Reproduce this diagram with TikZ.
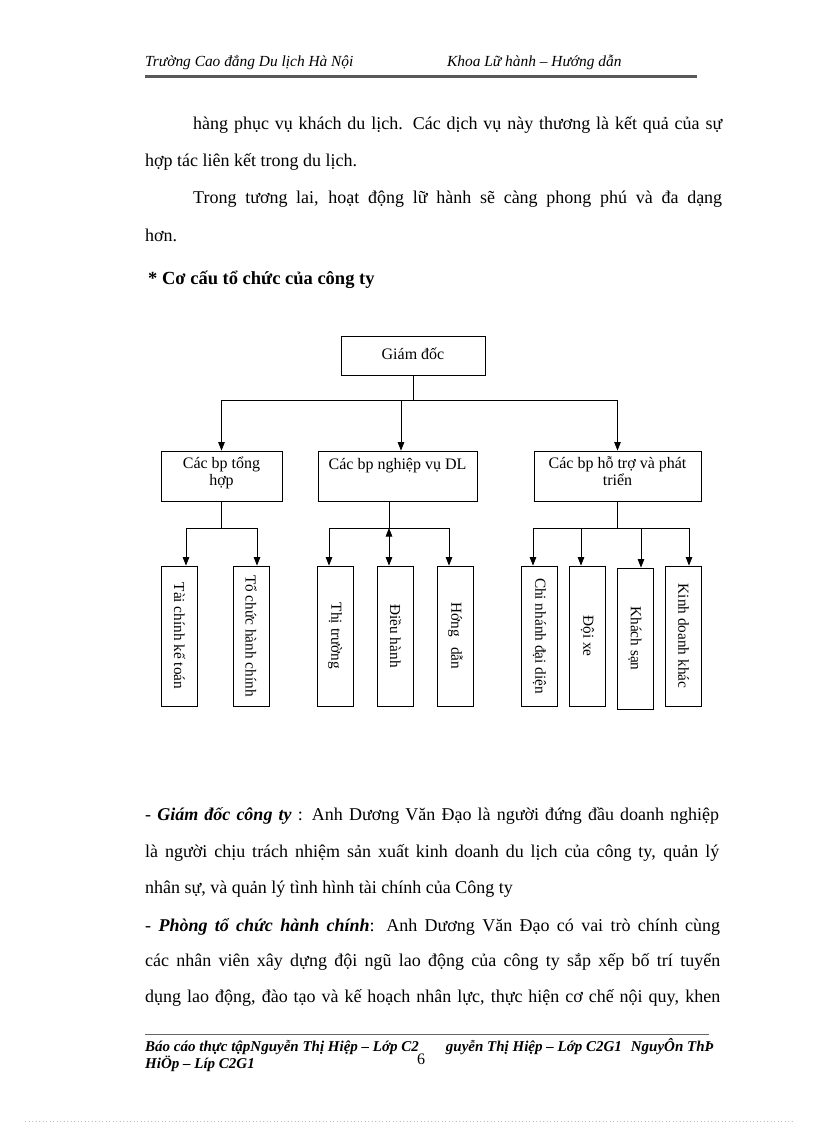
\documentclass[tikz,border=0pt]{standalone}
\usepackage{fontspec}
\setmainfont{Liberation Serif}
\usetikzlibrary{arrows.meta}
\newcommand{\bodyfont}{\fontsize{18}{20}\selectfont}
\newcommand{\jl}[2]{\hbox to #1pt{#2}}
\begin{document}
\begin{tikzpicture}[x=1pt,y=-1pt,
  txt/.style={anchor=base west, inner sep=0pt, font=\bodyfont},
  hdr/.style={anchor=base west, inner sep=0pt, font=\fontsize{15.4}{18}\selectfont\itshape},
  ftr/.style={anchor=base west, inner sep=0pt, font=\fontsize{15}{17}\selectfont\bfseries\itshape},
  box/.style={draw, line width=0.8pt, inner sep=0pt},
  dtext/.style={font=\fontsize{16}{17}\selectfont, align=center, inner sep=6pt},
  leaf/.style={draw, line width=0.8pt, inner sep=0pt, minimum width=36pt, minimum height=140pt},
  ltext/.style={rotate=-90, font=\fontsize{15.3}{17}\selectfont, inner sep=0pt},
  ln/.style={line width=0.8pt},
  arr/.style={line width=0.8pt, -{Triangle[width=6.5pt,length=8.5pt]}},
  darr/.style={line width=0.8pt, {Triangle[width=6.5pt,length=8.5pt]}-{Triangle[width=6.5pt,length=8.5pt]}}
]
\useasboundingbox (0,0) rectangle (816,1123);
\fill[white] (0,0) rectangle (816,1123);

% header
\node[hdr] (h1) at (145,67) {Trường Cao đẳng Du lịch Hà Nội};
\node[hdr] (h2) at (447,67) {Khoa Lữ hành – Hướng dẫn};
\coordinate (hl1) at (145,76.5);
\coordinate (hl2) at (697,76.5);
\draw[line width=2.2pt, black!65] (hl1) -- (hl2);

% top text
\node[txt] (t1) at (193,130) {\jl{529}{hàng phục vụ khách du lịch.  Các dịch vụ này thương là kết quả của sự}};
\node[txt] (t2) at (145,167) {hợp tác liên kết trong du lịch.};
\node[txt] (t3) at (193,204) {\jl{529}{Trong tương lai,  hoạt động lữ hành sẽ càng phong phú và đa dạng}};
\node[txt] (t4) at (145,241) {hơn.};
\node[txt, font=\fontsize{18.5}{20}\selectfont\bfseries] (t5) at (148,284) {* Cơ cấu tổ chức của công ty};

% diagram
\node[box, minimum width=144pt, minimum height=39pt, dtext, inner sep=0pt] (gd) at (413,355.5) {\raisebox{3pt}{Giám đốc}};
\node[box, minimum width=121pt, minimum height=50pt,
  label={[dtext, anchor=north]north:Các bp tổng\\hợp}] (b1) at (221.5,476) {};
\node[box, minimum width=159pt, minimum height=50pt,
  label={[dtext, anchor=north, yshift=-2pt]north:Các bp nghiệp vụ DL}] (b2) at (397.5,476) {};
\node[box, minimum width=167pt, minimum height=50pt,
  label={[dtext, anchor=north]north:Các bp hỗ trợ và phát\\triển}] (b3) at (617.5,476) {};

\node[leaf, label={[ltext]center:Tài chính kế toán}] (tc) at (179.5,636) {};
\node[leaf, label={[ltext]center:Tổ chức hành chính}] (tchc) at (251,636) {};
\node[leaf, label={[ltext]center:Thị trường}] (tt) at (335,636) {};
\node[leaf, label={[ltext]center:Điều hành}] (dh) at (395.5,636) {};
\node[leaf, label={[ltext]center:Hớng\hspace{10pt}dẫn}] (hd) at (455.5,636) {};
\node[leaf, label={[ltext]center:Chi nhánh đại diện}] (cn) at (539.5,636) {};
\node[leaf, label={[ltext]center:Đội xe}] (dx) at (587.5,636) {};
\node[leaf, minimum height=141pt, label={[ltext]center:Khách sạn}] (ks) at (635,638.5) {};
\node[leaf, label={[ltext]center:Kinh doanh khác}] (kd) at (683.5,636) {};

\coordinate (tb) at (0,400);
\coordinate (bb) at (0,528);

\draw[ln] (gd.south) -- (gd.south |- tb);
\draw[ln] (b1.north |- tb) -- (b3.north |- tb);
\draw[arr] (b1.north |- tb) -- (b1.north);
\draw[arr] ([xshift=3.5pt]b2.north |- tb) -- ([xshift=3.5pt]b2.north);
\draw[arr] (b3.north |- tb) -- (b3.north);

% group 1
\draw[ln] (b1.south) -- (b1.south |- bb);
\draw[ln] ([xshift=6.5pt]tc.north |- bb) -- ([xshift=6pt]tchc.north |- bb);
\draw[arr] ([xshift=6.5pt]tc.north |- bb) -- ([xshift=6.5pt]tc.north);
\draw[arr] ([xshift=6pt]tchc.north |- bb) -- ([xshift=6pt]tchc.north);

% group 2
\draw[ln] ([xshift=-8.5pt]b2.south) -- ([xshift=-8.5pt]b2.south |- bb);
\draw[ln] ([xshift=-6pt]tt.north |- bb) -- ([xshift=-6pt]hd.north |- bb);
\draw[arr] ([xshift=-6pt]tt.north |- bb) -- ([xshift=-6pt]tt.north);
\draw[darr] ([xshift=-6.5pt]dh.north |- bb) -- ([xshift=-6.5pt]dh.north);
\draw[arr] ([xshift=-6.5pt]hd.north |- bb) -- ([xshift=-6.5pt]hd.north);

% group 3
\draw[ln] (b3.south) -- (b3.south |- bb);
\draw[ln] ([xshift=-6.5pt]cn.north |- bb) -- ([xshift=5.5pt]kd.north |- bb);
\draw[arr] ([xshift=-6.5pt]cn.north |- bb) -- ([xshift=-6.5pt]cn.north);
\draw[arr] ([xshift=-6.5pt]dx.north |- bb) -- ([xshift=-6.5pt]dx.north);
\draw[arr] ([xshift=6pt]ks.north |- bb) -- ([xshift=6pt]ks.north);
\draw[arr] ([xshift=5.5pt]kd.north |- bb) -- ([xshift=5.5pt]kd.north);

% lower text
\node[txt] (p1) at (145,820) {\jl{574}{- \textbf{\textit{Giám đốc công ty}} : Anh Dương Văn Đạo là người đứng đầu doanh nghiệp}};
\node[txt] (p2) at (145,857) {\jl{574}{là người chịu trách nhiệm  sản xuất kinh  doanh du lịch của công ty, quản lý}};
\node[txt] (p3) at (145,893) {nhân sự, và quản lý tình hình tài chính của Công ty};
\node[txt] (p4) at (145,931) {\jl{575}{- \textbf{\textit{Phòng tổ chức hành chính}}: Anh Dương Văn Đạo có vai trò chính cùng}};
\node[txt] (p5) at (145,966) {\jl{575}{các nhân viên xây dựng đội ngũ lao động của công ty sắp xếp bố trí tuyển}};
\node[txt] (p6) at (145,1002) {\jl{575}{dụng lao động, đào tạo và kế hoạch nhân lực, thực hiện cơ chế nội quy, khen}};

% footer
\coordinate (fl1) at (145,1034);
\coordinate (fl2) at (709,1034);
\draw[line width=1pt, black!60] (fl1) -- (fl2);
\node[ftr] (f1) at (145,1051) {Báo cáo thực tậpNguyễn Thị Hiệp – Lớp C2};
\node[ftr, anchor=base east] (f1b) at (714,1051) {guyễn Thị Hiệp – Lớp C2G1\hspace{9pt}NguyÔn ThÞ};
\node[ftr] (f2) at (145,1068) {HiÖp – Líp C2G1};
\node[inner sep=0pt, font=\fontsize{16}{18}\selectfont, anchor=base] (pg) at (421,1064) {6};

\coordinate (d1) at (25,1121);
\coordinate (d2) at (792,1121);
\draw[black!25, line width=0.6pt, dash pattern=on 1pt off 2.5pt] (d1) -- (d2);
\end{tikzpicture}
\end{document}
